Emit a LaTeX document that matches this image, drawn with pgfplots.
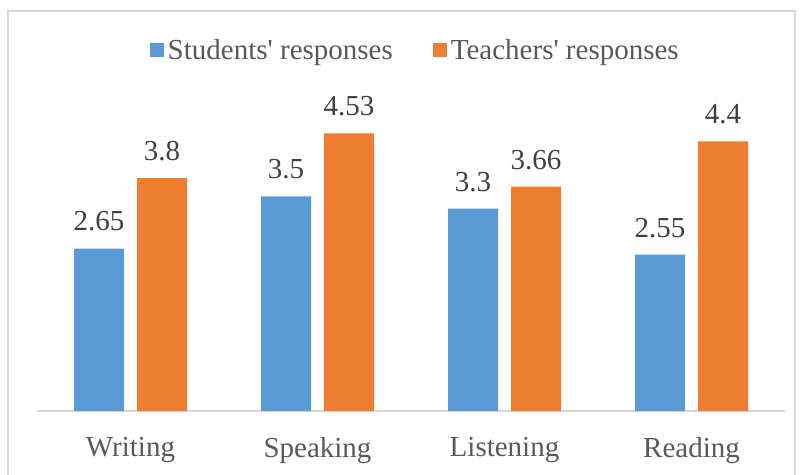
\documentclass[border=0pt]{standalone}
\usepackage{fontspec}
\setmainfont{Liberation Serif}
\usepackage{pgfplots}
\pgfplotsset{compat=1.18}
\definecolor{cblue}{HTML}{5B9BD5}
\definecolor{corange}{HTML}{ED7D31}
\definecolor{lbl}{HTML}{404040}
\definecolor{tck}{HTML}{595959}
\definecolor{grid}{HTML}{D9D9D9}
\newcommand{\bigf}{\fontsize{29}{34}\selectfont}
\begin{document}
\begin{tikzpicture}
\useasboundingbox (0pt,0pt) rectangle (802pt,474pt);
\draw[grid, line width=1.5pt] (8pt,-5pt) -- (8pt,463pt) -- (795pt,463pt) -- (795pt,-5pt);
\begin{axis}[
  at={(37pt,63pt)}, anchor=south west,
  scale only axis, width=748pt, height=306.5pt,
  ymin=0, ymax=5, xmin=-0.5, xmax=3.5,
  ybar, bar width=50pt,
  axis x line=bottom, axis y line=none,
  x axis line style={-, draw=grid, line width=1.2pt},
  xtick=data, xticklabels={Writing,Speaking,Listening,Reading},
  major tick length=0pt,
  xticklabel style={font=\bigf, text=tck, inner sep=0pt, anchor=north, yshift=-26pt},
  ytick=\empty,
  /pgf/number format/assume math mode=true,
  nodes near coords,
  every node near coord/.append style={font=\bigf, text=lbl, inner sep=0pt, anchor=south, yshift=17pt},
  legend columns=2,
  legend image code/.code={\fill[#1] (0pt,-7pt) rectangle (14pt,7pt);},
  legend style={at={(0.507,1.178)}, anchor=center, draw=none, fill=none,
    font=\bigf, text=tck, inner sep=0pt,
    nodes={inner sep=4pt},
    /tikz/every even column/.append style={column sep=36pt}},
  clip=false,
]
\addplot[fill=cblue, draw=none, bar shift=-31.5pt] coordinates {(0,2.65) (1,3.5) (2,3.3) (3,2.55)};
\addplot[fill=corange, draw=none, bar shift=31.5pt] coordinates {(0,3.8) (1,4.53) (2,3.66) (3,4.4)};
\legend{Students\textquotesingle{} responses, Teachers\textquotesingle{} responses}
\end{axis}
\end{tikzpicture}
\end{document}
